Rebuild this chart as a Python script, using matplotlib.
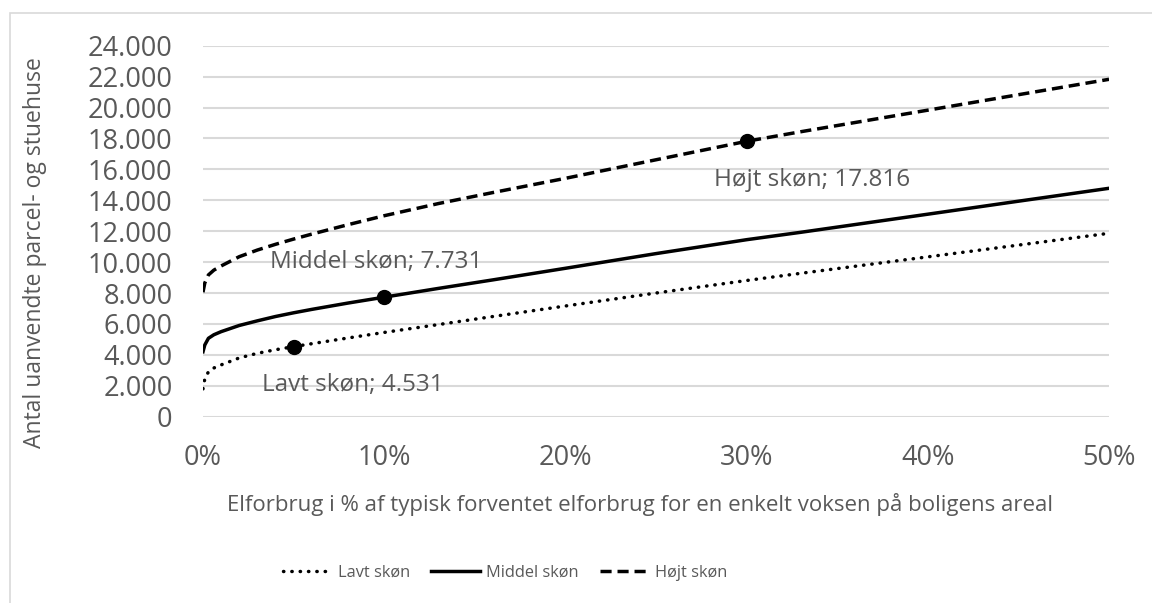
import matplotlib.pyplot as plt
from matplotlib.patches import Rectangle
from matplotlib.ticker import FuncFormatter

plt.rcParams['font.family'] = ['Open Sans', 'DejaVu Sans']

# Elforbrug i % (x) og antal uanvendte huse for hvert skøn
pct = [0, 0.1, 0.3, 0.6, 1, 2, 3, 4, 5, 6, 8, 10, 13, 16, 20, 25, 30, 33, 40, 45, 50]
lavt = [1800, 2450, 2900, 3150, 3350, 3800, 4100, 4330, 4531, 4720, 5090, 5450,
        5960, 6480, 7160, 8000, 8810, 9277, 10340, 11100, 11864]
middel = [4200, 4640, 5070, 5300, 5500, 5900, 6200, 6480, 6720, 6940, 7350, 7731,
          8300, 8850, 9600, 10550, 11450, 11930, 13100, 13940, 14775]
hojt = [8050, 8650, 9170, 9480, 9750, 10350, 10780, 11150, 11490, 11810, 12420, 13000,
        13790, 14500, 15420, 16620, 17816, 18437, 19830, 20830, 21826]

series_names = ["Lavt skøn", "Middel skøn", "Højt skøn"]
point_pct = [5, 10, 30]
point_vals = [4531, 7731, 17816]


def dk(v, pos=None):
    return f"{v:,.0f}".replace(",", ".")


grey = "#595959"
fig = plt.figure(figsize=(11.52, 6.03), dpi=100)
ax = fig.add_axes([0.1762, 0.309, 0.7865, 0.6152])

# light frame around the chart
fig.patches.append(Rectangle((10 / 1152, -0.05), 1.2, 1.05 - 13 / 603,
                             transform=fig.transFigure, fill=False,
                             edgecolor="#d9d9d9", lw=1.2))

lw = 2.5
ax.plot(pct, lavt, color="black", lw=lw, linestyle=(0, (0.1, 2.3)),
        dash_capstyle="round", label=series_names[0])
ax.plot(pct, middel, color="black", lw=lw, linestyle="-", label=series_names[1])
ax.plot(pct, hojt, color="black", lw=lw, linestyle=(0, (3.2, 1.7)),
        label=series_names[2])

ax.plot(point_pct, point_vals, "o", color="black", markersize=10, zorder=5)

# data labels
label_pos = [(8.28, 2050), (9.55, 10030), (33.6, 15300)]
for name, v, (lx, ly) in zip(series_names, point_vals, label_pos):
    ax.text(lx, ly, f"{name}; {dk(v)}", ha="center", va="center",
            fontsize=17.5, color=grey)

ax.set_xlim(0, 50)
ax.set_ylim(0, 24000)
ax.set_yticks(range(0, 24001, 2000))
ax.set_xticks(range(0, 51, 10))
ax.yaxis.set_major_formatter(FuncFormatter(dk))
ax.xaxis.set_major_formatter(FuncFormatter(lambda v, p: f"{v:.0f}%"))
ax.grid(axis="y", color="#d9d9d9", lw=1.5)
ax.set_axisbelow(True)
for s in ax.spines.values():
    s.set_visible(False)
ax.tick_params(length=0, labelsize=19.5, colors=grey)
ax.tick_params(axis="y", pad=22)
ax.tick_params(axis="x", pad=20)

ax.set_xlabel("Elforbrug i % af typisk forventet elforbrug for en enkelt voksen på boligens areal",
              fontsize=16, color=grey)
ax.xaxis.set_label_coords(0.482, -0.205)
ax.set_ylabel("Antal uanvendte parcel- og stuehuse", fontsize=16.5, color=grey)
ax.yaxis.set_label_coords(-0.172, 0.4426)

leg = fig.legend(loc="center", bbox_to_anchor=(505 / 1152, 1 - 573 / 603), ncol=3,
                 frameon=False, fontsize=11.8, handlelength=3.0, handletextpad=0.35,
                 columnspacing=1.3)
for t in leg.get_texts():
    t.set_color(grey)

fig.savefig("out.png", dpi=100)
